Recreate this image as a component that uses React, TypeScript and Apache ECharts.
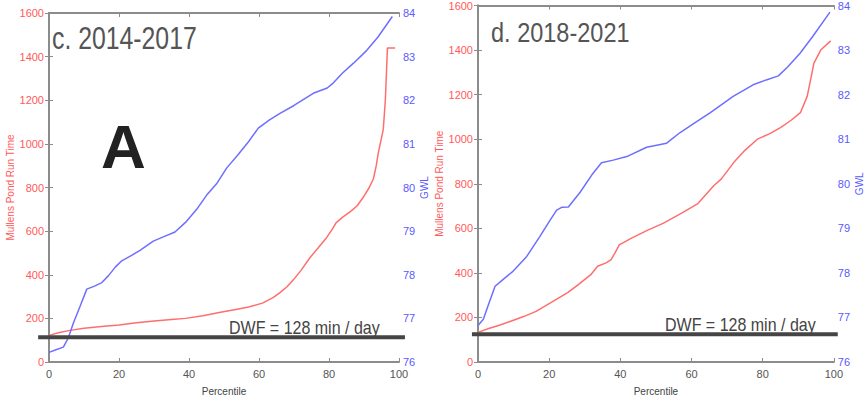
import React, { useEffect, useRef } from "react";
import * as echarts from "echarts";

// ---- Data ----
const pctTicks = [0, 20, 40, 60, 80, 100];

// Panel c. 2014-2017
const cRunPct = [0, 3, 6, 10, 15, 20, 25, 30, 35, 39, 44, 49, 53, 57, 61, 64, 66, 68, 70, 72, 74.6, 77, 79.3, 81, 82, 84, 86, 88, 90, 91.5, 92.7, 93.5, 94.1, 95.5, 96.1, 96.7, 98.9];
const cRunVal = [122, 135, 145, 155, 163, 170, 180, 188, 195, 200, 212, 228, 240, 252, 270, 295, 318, 345, 380, 420, 479, 525, 570, 610, 638, 665, 688, 715, 760, 800, 840, 900, 960, 1065, 1200, 1440, 1440];
const cGwlPct = [0, 2, 4.1, 5.5, 7, 9, 10.8, 13, 15.1, 17, 19, 20.8, 23.1, 26, 29.8, 33, 36, 39, 42.2, 45, 48, 50.8, 54, 57, 59.8, 63, 66, 70, 75.5, 79.5, 81, 83.8, 87, 90.5, 94, 98.1];
const cGwlVal = [76.22, 76.28, 76.34, 76.55, 76.9, 77.3, 77.67, 77.74, 77.82, 77.98, 78.18, 78.32, 78.42, 78.56, 78.77, 78.88, 78.98, 79.2, 79.5, 79.82, 80.1, 80.45, 80.75, 81.05, 81.36, 81.55, 81.7, 81.88, 82.16, 82.28, 82.38, 82.62, 82.85, 83.12, 83.45, 83.92];

// Panel d. 2018-2021
const dRunPct = [0, 3, 6, 9, 13, 16.3, 20, 25.2, 28, 31.7, 33.6, 36, 37.4, 38.5, 39.7, 43, 47.7, 52, 57.1, 61.8, 66.3, 68.4, 71.9, 75, 78.5, 82, 85, 88, 90.6, 92.5, 93.5, 94.4, 96.3, 99.1];
const dRunVal = [133, 150, 165, 182, 205, 227, 262, 311, 345, 392, 430, 445, 459, 490, 526, 555, 592, 622, 667, 711, 792, 822, 896, 950, 1000, 1025, 1052, 1085, 1119, 1192, 1270, 1341, 1400, 1441];
const dGwlPct = [0, 1.5, 3, 4.8, 7, 9.9, 13.7, 17.4, 20, 22.1, 23.5, 25.4, 28.7, 32, 34.7, 38, 41.8, 47.4, 53, 56.8, 61, 65.2, 71.7, 77.3, 81, 84.4, 87, 90.5, 94, 98.9];
const dGwlVal = [76.82, 76.96, 77.3, 77.7, 77.85, 78.04, 78.37, 78.82, 79.15, 79.41, 79.47, 79.48, 79.81, 80.2, 80.47, 80.53, 80.61, 80.82, 80.91, 81.15, 81.37, 81.59, 81.96, 82.22, 82.33, 82.42, 82.62, 82.93, 83.3, 83.85];

const panelTitles = ["c. 2014-2017", "d. 2018-2021"];
const dwfLabel = "DWF = 128 min / day";
const dwfLineLevel = [114, 124]; // drawn level of the DWF line in each panel
const dwfSpan = [[-3.1, 101.7], [-1.7, 101.1]];

const RED = "#ff6e6e";
const BLUE = "#6e6eff";
const RED_LBL = "#ff5a5a";
const BLUE_LBL = "#5a5aff";
const FRAME = "#8c8c8c";
const FONT = "Liberation Sans, Arial, sans-serif";

const zip = (a: number[], b: number[]) => a.map((v, i) => [v, b[i]]);
const plain = (v: number) => String(v);

export default function App() {
  const ref = useRef<HTMLDivElement>(null);

  useEffect(() => {
    if (!ref.current) return;
    const chart = echarts.init(ref.current, null, { renderer: "svg" });

    const grids = [
      { left: 49, top: 13, width: 350, height: 350 },
      { left: 478, top: 5, width: 356, height: 360 },
    ];

    const lineStyleFrame = { show: true, lineStyle: { color: FRAME, width: 2 } };
    const tick = { show: true, inside: true, length: 4, lineStyle: { color: FRAME, width: 1 } };

    const xAxes: any[] = [];
    const yAxes: any[] = [];
    grids.forEach((_, g) => {
      xAxes.push({
        type: "value", gridIndex: g, min: pctTicks[0], max: pctTicks[pctTicks.length - 1], interval: 20, position: "bottom",
        axisLine: lineStyleFrame, axisTick: tick, splitLine: { show: false },
        axisLabel: { color: "#555", fontSize: 11, fontFamily: FONT, margin: 6, formatter: plain },
        name: "Percentile", nameLocation: "middle", nameGap: 24,
        nameTextStyle: { color: "#444", fontSize: 10, fontFamily: FONT },
      });
      xAxes.push({
        type: "value", gridIndex: g, min: 0, max: 100, interval: 20, position: "top",
        axisLine: lineStyleFrame, axisTick: tick, splitLine: { show: false },
        axisLabel: { show: false },
      });
      yAxes.push({
        type: "value", gridIndex: g, min: 0, max: 1600, interval: 200, position: "left",
        axisLine: lineStyleFrame, axisTick: tick, splitLine: { show: false },
        axisLabel: { color: RED_LBL, fontSize: 11, fontFamily: FONT, margin: 5, formatter: plain },
        name: "Mullens Pond Run Time", nameLocation: "middle", nameGap: 32, nameRotate: 90,
        nameTextStyle: { color: RED_LBL, fontSize: 10, fontFamily: FONT },
      });
      yAxes.push({
        type: "value", gridIndex: g, min: 76, max: 84, interval: 1, position: "right",
        axisLine: lineStyleFrame, axisTick: tick, splitLine: { show: false },
        axisLabel: { color: BLUE_LBL, fontSize: 11, fontFamily: FONT, margin: 4, formatter: plain },
        name: "GWL", nameLocation: "middle", nameGap: 18, nameRotate: 90,
        nameTextStyle: { color: BLUE_LBL, fontSize: 10, fontFamily: FONT },
      });
    });

    const mk = (data: number[][], g: number, isGwl: boolean) => ({
      type: "line",
      xAxisIndex: g * 2,
      yAxisIndex: g * 2 + (isGwl ? 1 : 0),
      data,
      showSymbol: false,
      smooth: false,
      lineStyle: { color: isGwl ? BLUE : RED, width: 1.5 },
      itemStyle: { color: isGwl ? BLUE : RED },
      z: isGwl ? 3 : 2,
    });

    chart.setOption({
      animation: false,
      grid: grids,
      xAxis: xAxes,
      yAxis: yAxes,
      series: [
        mk(zip(cRunPct, cRunVal), 0, false),
        mk(zip(cGwlPct, cGwlVal), 0, true),
        mk(zip(dRunPct, dRunVal), 1, false),
        mk(zip(dGwlPct, dGwlVal), 1, true),
      ],
    });

    const graphics: any[] = [];
    [0, 1].forEach((g) => {
      const y = chart.convertToPixel({ yAxisIndex: g * 2 } as any, dwfLineLevel[g]) as number;
      const x1 = chart.convertToPixel({ xAxisIndex: g * 2 } as any, dwfSpan[g][0]) as number;
      const x2 = chart.convertToPixel({ xAxisIndex: g * 2 } as any, dwfSpan[g][1]) as number;
      graphics.push({
        type: "line", z: 50,
        shape: { x1, y1: y, x2, y2: y },
        style: { stroke: "#454545", lineWidth: 4 },
      });
    });

    graphics.push(
      {
        type: "text", x: 52, y: 39, scaleX: 0.8, z: 60,
        style: { text: panelTitles[0], font: `31px ${FONT}`, fill: "#555", textVerticalAlign: "middle" },
      },
      {
        type: "text", x: 491, y: 32, scaleX: 0.84, z: 60,
        style: { text: panelTitles[1], font: `28px ${FONT}`, fill: "#555", textVerticalAlign: "middle" },
      },
      {
        type: "text", x: 101, y: 146, z: 60,
        style: { text: "A", font: `bold 62px ${FONT}`, fill: "#222", textVerticalAlign: "middle" },
      },
      {
        type: "text", x: 229, y: 328, scaleX: 0.89, z: 60,
        style: { text: dwfLabel, font: `18px ${FONT}`, fill: "#444", textVerticalAlign: "middle" },
      },
      {
        type: "text", x: 665, y: 325.5, scaleX: 0.89, z: 60,
        style: { text: dwfLabel, font: `18px ${FONT}`, fill: "#444", textVerticalAlign: "middle" },
      }
    );

    chart.setOption({ graphic: graphics });

    return () => chart.dispose();
  }, []);

  return (
    <div
      ref={ref}
      style={{ position: "fixed", left: 0, top: 0, width: 865, height: 401, background: "#fff" }}
    />
  );
}
